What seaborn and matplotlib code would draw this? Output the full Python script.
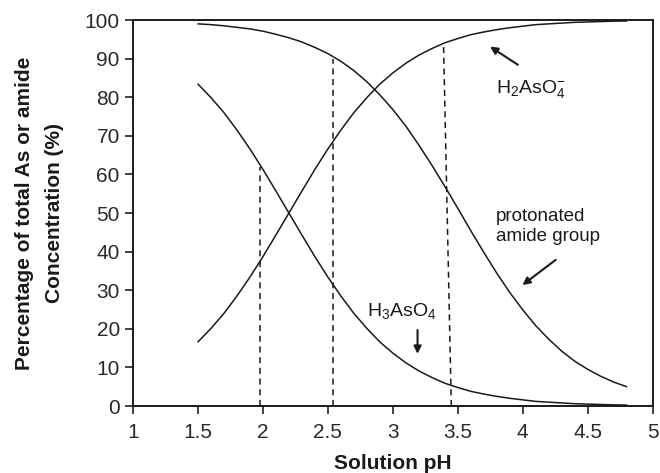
import matplotlib
matplotlib.use("Agg")
import matplotlib.pyplot as plt
import seaborn as sns
import pandas as pd

# pH steps and percentages
ph = [1.5, 1.6, 1.7, 1.8, 1.9, 2.0, 2.1, 2.2, 2.3, 2.4, 2.5, 2.6, 2.7, 2.8,
      2.9, 3.0, 3.1, 3.2, 3.3, 3.4, 3.5, 3.6, 3.7, 3.8, 3.9, 4.0, 4.1, 4.2,
      4.3, 4.4, 4.5, 4.6, 4.7, 4.8]
h3aso4 = [83.4, 79.9, 76.0, 71.5, 66.6, 61.3, 55.7, 50.0, 44.3, 38.7, 33.4,
          28.5, 24.0, 20.1, 16.6, 13.7, 11.2, 9.1, 7.4, 5.9, 4.8, 3.8, 3.1,
          2.5, 2.0, 1.6, 1.2, 1.0, 0.8, 0.6, 0.5, 0.4, 0.3, 0.25]
h2aso4 = [16.6, 20.1, 24.0, 28.5, 33.4, 38.7, 44.3, 50.0, 55.7, 61.3, 66.6,
          71.5, 76.0, 79.9, 83.4, 86.3, 88.8, 90.9, 92.6, 94.1, 95.2, 96.2,
          96.9, 97.5, 98.0, 98.4, 98.8, 99.0, 99.2, 99.4, 99.5, 99.6, 99.7, 99.75]
amide = [99.0, 98.8, 98.5, 98.1, 97.7, 97.1, 96.3, 95.4, 94.3, 92.9, 91.3,
         89.3, 86.9, 84.0, 80.6, 76.8, 72.5, 67.6, 62.4, 56.9, 51.2, 45.4,
         39.8, 34.4, 29.4, 24.9, 20.8, 17.3, 14.2, 11.6, 9.5, 7.7, 6.2, 5.0]

# dashed guide lines: bottom x, top x, top y
guide_x0 = [1.98, 2.54, 3.45]
guide_x1 = [1.98, 2.54, 3.39]
guide_top = [61.8, 90.0, 93.5]

df = pd.DataFrame({"pH": ph, "H3AsO4": h3aso4, "H2AsO4": h2aso4, "amide": amide})

sns.set_style("ticks")
plt.rcParams["font.family"] = ["Liberation Sans", "DejaVu Sans"]
plt.rcParams["mathtext.fontset"] = "custom"
plt.rcParams["mathtext.rm"] = "Liberation Sans"

ink = "#1a1a1a"
fig = plt.figure(figsize=(6.6, 4.73), dpi=100)
ax = fig.add_axes([0.2015, 0.1416, 0.7875, 0.8161])

for col in ["H3AsO4", "H2AsO4", "amide"]:
    sns.lineplot(data=df, x="pH", y=col, ax=ax, color=ink, linewidth=1.1)

for x0, x1, top in zip(guide_x0, guide_x1, guide_top):
    ax.plot([x0, x1], [0, top], color=ink, linewidth=1.1, linestyle=(0, (4, 3)))

ax.set_xlim(1, 5)
ax.set_ylim(0, 100)
ax.set_xticks([1, 1.5, 2, 2.5, 3, 3.5, 4, 4.5, 5])
ax.set_xticklabels(["1", "1.5", "2", "2.5", "3", "3.5", "4", "4.5", "5"])
ax.set_yticks(range(0, 101, 10))
ax.tick_params(labelsize=15, length=6, width=1.3, color="#333333", labelcolor="#2a2a2a")
ax.tick_params(axis="x", pad=6)
for s in ax.spines.values():
    s.set_linewidth(1.4)
    s.set_color(ink)

ax.set_xlabel("Solution pH", fontsize=15, fontweight="bold", color=ink, labelpad=9)
ax.set_ylabel("Percentage of total As or amide\nConcentration (%)", fontsize=15,
              fontweight="bold", color=ink, labelpad=15, linespacing=1.7)

arrow = dict(arrowstyle="-|>", color=ink, lw=1.5, mutation_scale=11)
ax.annotate("", xy=(3.73, 93.5), xytext=(3.98, 88), arrowprops=arrow)
ax.text(3.79, 82, r"$\mathregular{H_2AsO_4^{-}}$", fontsize=14, color=ink, va="center")

ax.text(3.79, 46.5, "protonated\namide group", fontsize=13.5, color=ink,
        va="center", linespacing=1.2)
ax.annotate("", xy=(3.98, 30.9), xytext=(4.27, 38.3), arrowprops=arrow)

ax.text(2.80, 24.5, r"$\mathregular{H_3AsO_4}$", fontsize=14, color=ink, va="center")
ax.annotate("", xy=(3.19, 12.8), xytext=(3.19, 20.4), arrowprops=arrow)

fig.savefig("out.png", dpi=100)
